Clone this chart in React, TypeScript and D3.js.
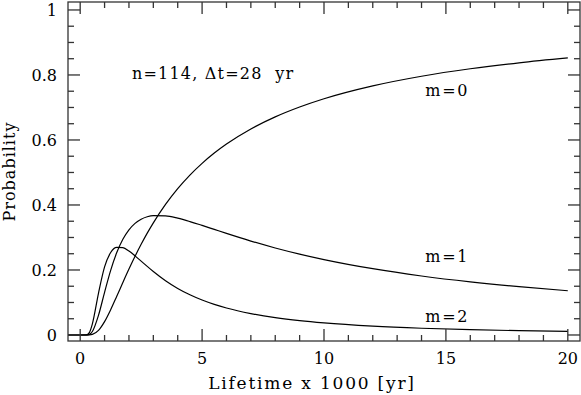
import React from 'react';
import * as d3 from 'd3';

// lifetime in units of 1000 yr
const lifetimes = [-0.5, 0, 0.25, 0.375, 0.5, 0.75, 1, 1.25, 1.5, 1.75, 2, 2.25, 2.5, 2.75, 3, 3.5, 4, 4.5, 5, 5.5, 6, 7, 8, 9, 10, 12, 14, 16, 18, 20];
const probM0 = [0, 0, 0, 0.0002, 0.0017, 0.0142, 0.0411, 0.0778, 0.1191, 0.1614, 0.2027, 0.2420, 0.2789, 0.3133, 0.3451, 0.4017, 0.4502, 0.4920, 0.5281, 0.5597, 0.5874, 0.6338, 0.6710, 0.7014, 0.7268, 0.7664, 0.7961, 0.8191, 0.8375, 0.8525];
const probM1 = [0, 0, 0, 0.0017, 0.0108, 0.0604, 0.1312, 0.1987, 0.2535, 0.2944, 0.3235, 0.3433, 0.3561, 0.3637, 0.3672, 0.3663, 0.3593, 0.3490, 0.3371, 0.3248, 0.3125, 0.2890, 0.2677, 0.2488, 0.2320, 0.2039, 0.1815, 0.1634, 0.1485, 0.1361];
const probM2 = [0, 0, 0.0002, 0.0073, 0.0344, 0.1284, 0.2094, 0.2537, 0.2697, 0.2685, 0.2582, 0.2435, 0.2273, 0.2111, 0.1953, 0.1670, 0.1433, 0.1238, 0.1076, 0.0943, 0.0831, 0.0659, 0.0534, 0.0441, 0.0370, 0.0271, 0.0207, 0.0163, 0.0132, 0.0109];

const curveLabels = [
  { text: 'm=0', lx: 14.15, ly: 0.735 },
  { text: 'm=1', lx: 14.15, ly: 0.224 },
  { text: 'm=2', lx: 14.15, ly: 0.04 },
];
const xTickLabels = [0, 5, 10, 15, 20];
const yTickLabels = [0, 0.2, 0.4, 0.6, 0.8, 1];

const W = 581;
const H = 395;
const left = 68, right = 580, top = 2, bottom = 341;
const font = '"DejaVu Serif", serif';

export default function App() {
  const x = d3.scaleLinear().domain([-0.5, 20.5]).range([left, right]);
  const y = d3.scaleLinear().domain([-0.0185, 1.0245]).range([bottom, top]);

  const line = d3.line<number>()
    .x((d, i) => x(lifetimes[i]))
    .y(d => y(d))
    .curve(d3.curveMonotoneX);

  const xt = x.ticks(20);
  const yt = y.ticks(20).filter(v => v >= 0 && v <= 1.0001);
  const major = 12, minor = 6;
  const tickCol = '#333';

  return (
    <svg width={W} height={H} style={{ position: 'absolute', left: 0, top: 0, background: '#fff' }}>
      {[probM0, probM1, probM2].map((s, i) => (
        <path key={i} d={line(s) || ''} fill="none" stroke="#000" strokeWidth={1.2} />
      ))}
      <g stroke={tickCol} strokeWidth={1.3}>
        {xt.map(v => {
          const len = v % 5 === 0 ? major : minor;
          return (
            <g key={'x' + v}>
              <line x1={x(v)} x2={x(v)} y1={bottom} y2={bottom - len} />
              <line x1={x(v)} x2={x(v)} y1={top} y2={top + len} />
            </g>
          );
        })}
        {yt.map(v => {
          const isMajor = Math.abs(v * 5 - Math.round(v * 5)) < 1e-6;
          const len = isMajor ? major : minor;
          return (
            <g key={'y' + v}>
              <line x1={left} x2={left + len} y1={y(v)} y2={y(v)} />
              <line x1={right} x2={right - len} y1={y(v)} y2={y(v)} />
            </g>
          );
        })}
        <rect x={left} y={top} width={right - left} height={bottom - top} fill="none" />
      </g>
      <g fontFamily={font} fontSize={16} fill="#000">
        {xTickLabels.map(v => (
          <text key={'xl' + v} x={x(v)} y={364} textAnchor="middle">{v}</text>
        ))}
        {yTickLabels.map(v => (
          <text key={'yl' + v} x={57} y={y(v) + 6} textAnchor="end">{v}</text>
        ))}
        <text x={312} y={389} fontSize={17} textAnchor="middle" letterSpacing={1.8}>Lifetime x 1000 [yr]</text>
        <text transform={`translate(15,${(top + bottom) / 2}) rotate(-90)`} textAnchor="middle" letterSpacing={1}>Probability</text>
        <text x={132} y={79} letterSpacing={1.2} style={{ whiteSpace: 'pre' }}>{'n=114, Δt=28  yr'}</text>
        {curveLabels.map(c => (
          <text key={c.text} x={x(c.lx)} y={y(c.ly)} textAnchor="start" letterSpacing={1.8}>{c.text}</text>
        ))}
      </g>
    </svg>
  );
}
